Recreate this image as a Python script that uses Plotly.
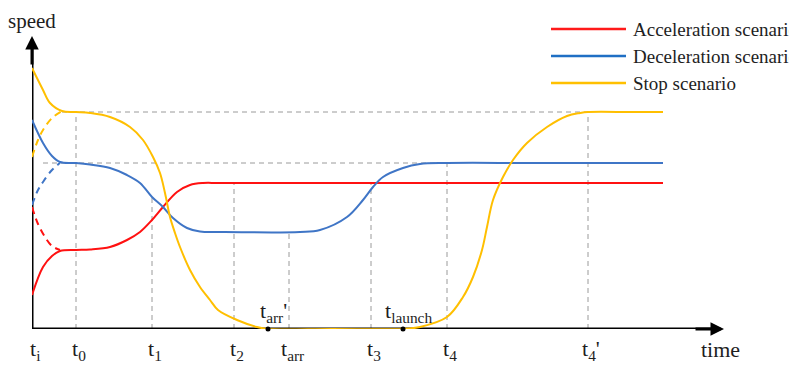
import plotly.graph_objects as go

# ---- data (time units, speed units) ----
acc_t = [0, 1.1, 2.0, 2.8, 4.4, 5.8, 7.8, 9.5, 10.8, 12.0, 13.1, 14.5, 15.8, 17.1, 18.8, 40.0, 63.1]
acc_v = [3.4, 6.2, 7.3, 7.8, 7.9, 7.95, 8.2, 8.9, 9.7, 10.9, 12.2, 13.7, 14.4, 14.6, 14.6, 14.6, 14.6]
acc_dash_t = [0, 0.6, 1.3, 2.0, 2.8]
acc_dash_v = [12.2, 10.5, 9.2, 8.3, 7.9]

dec_t = [0, 1.1, 2.0, 2.8, 4.4, 5.8, 7.8, 9.5, 10.8, 12.0, 13.1, 14.1, 15.5, 16.8, 18.8, 26.8, 28.8,
         31.5, 33.1, 34.1, 35.1, 37.1, 38.8, 41.5, 50.0, 63.1]
dec_v = [20.9, 18.6, 17.3, 16.7, 16.6, 16.45, 16.1, 15.4, 14.6, 13.2, 12.2, 11.1, 10.1, 9.75, 9.7, 9.7, 9.9,
         11.2, 12.9, 14.2, 15.2, 16.1, 16.5, 16.6, 16.6, 16.6]
dec_dash_t = [0, 0.6, 1.1, 2.0, 2.8]
dec_dash_v = [12.4, 13.9, 14.7, 15.9, 16.6]

stop_t = [0, 1.1, 1.8, 3.0, 4.4, 5.8, 7.8, 9.8, 11.1, 12.1, 12.8, 13.3, 13.8, 14.3, 14.8, 15.8, 16.8,
          17.8, 18.6, 20.5, 22.5, 23.6, 30.0, 37.1, 38.8, 41.5, 43.1, 44.1, 45.0, 45.5, 46.1, 47.1,
          48.1, 49.5, 51.5, 53.5, 54.8, 55.6, 60.0, 63.1]
stop_v = [26.1, 23.9, 22.6, 21.8, 21.7, 21.6, 21.2, 20.2, 18.9, 17.2, 15.6, 13.6, 11.2, 9.6, 8.2, 5.9, 4.2,
          2.9, 1.9, 0.9, 0.2, 0, 0, 0, 0.2, 1.2, 3.2, 5.2, 7.9, 10.2, 12.9, 15.2,
          16.9, 18.6, 20.2, 21.3, 21.6, 21.7, 21.7, 21.7]
stop_dash_t = [0, 0.6, 1.1, 2.0, 3.0]
stop_dash_v = [17.2, 18.9, 19.9, 21.1, 21.8]

# key instants and levels
tick_t = [0, 4.4, 12.0, 20.2, 25.7, 33.9, 41.5, 55.6]
tick_lab = ["t<sub>i</sub>", "t<sub>0</sub>", "t<sub>1</sub>", "t<sub>2</sub>", "t<sub>arr</sub>",
            "t<sub>3</sub>", "t<sub>4</sub>", "t<sub>4</sub>'"]
guide_top = [None, 21.7, 13.2, 14.6, 9.7, 14.6, 16.6, 21.7]   # vertical guide heights
hguide_v = [21.7, 16.6]
hguide_t0 = [3.0, 1.1]
hguide_t1 = [55.6, 41.5]
event_t = [23.6, 37.1]
event_lab = ["t<sub>arr</sub>'", "t<sub>launch</sub>"]

names = ["Acceleration scenario", "Deceleration scenario", "Stop scenario"]
colors = ["#ff1111", "#3f75c6", "#ffbf00"]
leg_colors = ["#ff1a1a", "#1f6fc4", "#ffc000"]

# page is shown with an 8px body margin: figure 789x359 so it fits the 797x367 window
FIG_W, FIG_H = 789, 359
ML, MB = 24, 38
PLOT_W, PLOT_H = FIG_W - ML, FIG_H - MB
XMAX, YMAX = PLOT_W / 10, PLOT_H / 10
X_TIP, Y_TIP = 69.2, 29.3
FONT = "Times New Roman, Liberation Serif, Times, serif"
TXT = "#1e1e1e"

fig = go.Figure()
for (t, v), c in zip([(acc_t, acc_v), (dec_t, dec_v), (stop_t, stop_v)], colors):
    fig.add_trace(go.Scatter(x=t, y=v, mode="lines", line=dict(color=c, width=2, shape="spline", smoothing=1.0),
                             cliponaxis=False, showlegend=False, hoverinfo="skip"))
for (t, v), c in zip([(acc_dash_t, acc_dash_v), (dec_dash_t, dec_dash_v), (stop_dash_t, stop_dash_v)], colors):
    fig.add_trace(go.Scatter(x=t, y=v, mode="lines",
                             line=dict(color=c, width=2, dash="7px,5px", shape="spline", smoothing=1.0),
                             cliponaxis=False, showlegend=False, hoverinfo="skip"))
fig.add_trace(go.Scatter(x=event_t, y=[0, 0], mode="markers", marker=dict(color="black", size=5),
                         cliponaxis=False, showlegend=False, hoverinfo="skip"))

shapes = []
gray = dict(color="#9a9a9a", width=1, dash="5px,4px")
for t, top in zip(tick_t, guide_top):
    if top is None:
        continue
    shapes.append(dict(type="line", x0=t, x1=t, y0=0, y1=top, xref="x", yref="y", line=gray, layer="below"))
for v, a, b in zip(hguide_v, hguide_t0, hguide_t1):
    shapes.append(dict(type="line", x0=a, x1=b, y0=v, y1=v, xref="x", yref="y", line=gray, layer="below"))
# axes
shapes.append(dict(type="line", x0=0, x1=X_TIP - 1.2, y0=0, y1=0, xref="x", yref="y",
                   line=dict(color="black", width=3), layer="below"))
shapes.append(dict(type="line", x0=0, x1=0, y0=0, y1=Y_TIP - 1.2, xref="x", yref="y",
                   line=dict(color="black", width=3), layer="below"))

ann = []
ann.append(dict(x=X_TIP, y=0, ax=X_TIP - 3, ay=0, xref="x", yref="y", axref="x", ayref="y",
                showarrow=True, arrowhead=2, arrowwidth=3, arrowsize=0.9, arrowcolor="black", text=""))
ann.append(dict(x=0, y=Y_TIP, ax=0, ay=Y_TIP - 3, xref="x", yref="y", axref="x", ayref="y",
                showarrow=True, arrowhead=2, arrowwidth=3, arrowsize=0.9, arrowcolor="black", text=""))
for t, lab in zip(tick_t, tick_lab):
    ann.append(dict(x=t, y=0, xref="x", yref="y", text=lab, showarrow=False, xanchor="center",
                    yanchor="middle", xshift=3, yshift=-21, font=dict(family=FONT, size=22, color=TXT)))
for t, lab in zip(event_t, event_lab):
    ann.append(dict(x=t, y=0, xref="x", yref="y", text=lab, showarrow=False, xanchor="center",
                    yanchor="middle", xshift=5, yshift=17, font=dict(family=FONT, size=22, color=TXT)))
ann.append(dict(x=0, y=YMAX, xref="x", yref="y", text="speed", showarrow=False, xanchor="center",
                yanchor="top", yshift=1, font=dict(family=FONT, size=21, color=TXT)))
ann.append(dict(x=X_TIP, y=0, xref="x", yref="y", text="time", showarrow=False, xanchor="center",
                yanchor="middle", xshift=-4, yshift=-20, font=dict(family=FONT, size=22, color=TXT)))

# manual legend; positions as page pixels relative to the plot origin (32, 329)
leg_y = [29, 56, 83]
for nm, c, py in zip(names, leg_colors, leg_y):
    yy = (329 - py) / PLOT_H
    shapes.append(dict(type="line", xref="paper", yref="paper", x0=(551 - 32) / PLOT_W, x1=(626 - 32) / PLOT_W,
                       y0=yy, y1=yy, line=dict(color=c, width=2.5)))
    ann.append(dict(xref="paper", yref="paper", x=(631 - 32) / PLOT_W, y=yy, text=nm, showarrow=False,
                    xanchor="left", yanchor="middle", font=dict(family=FONT, size=19, color=TXT)))

fig.update_layout(
    width=FIG_W, height=FIG_H, margin=dict(l=ML, r=0, t=0, b=MB),
    paper_bgcolor="white", plot_bgcolor="white",
    font=dict(family=FONT),
    xaxis=dict(range=[0, XMAX], visible=False, fixedrange=True),
    yaxis=dict(range=[0, YMAX], visible=False, fixedrange=True),
    shapes=shapes, annotations=ann,
)
fig.write_html("out.html")
